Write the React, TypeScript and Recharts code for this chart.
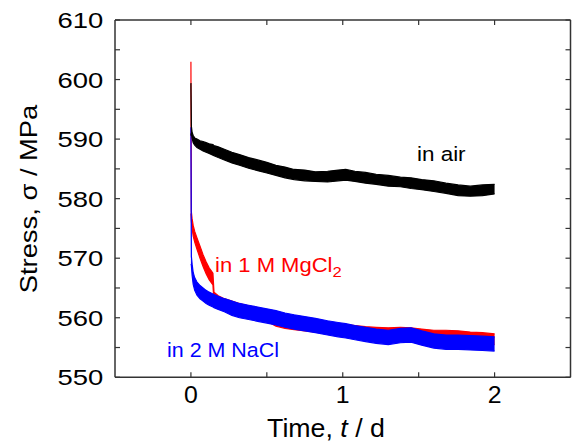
import React from 'react';
import { ComposedChart, Area, XAxis, YAxis } from 'recharts';

// time in days, shared by all three records
const time = [
  0, 0.003, 0.008, 0.015, 0.025, 0.04, 0.06, 0.08, 0.1, 0.12,
  0.145, 0.152, 0.18, 0.22, 0.27, 0.32, 0.38, 0.44, 0.5, 0.56,
  0.62, 0.68, 0.75, 0.82, 0.9, 0.97, 1.02, 1.08, 1.15, 1.22,
  1.3, 1.38, 1.45, 1.52, 1.6, 1.68, 1.76, 1.84, 1.92, 2.0,
];

// stress band (low / high edge of the noisy trace), MPa
const airHi = [
  599.4, 592.2, 591.1, 590.6, 590.2, 590.0, 589.7, 589.6, 589.4, 589.2,
  589.1, 588.9, 588.7, 588.3, 587.8, 587.4, 586.9, 586.5, 586.1, 585.6,
  585.3, 584.9, 584.8, 584.5, 584.6, 584.8, 584.9, 584.6, 584.4, 584.1,
  583.9, 583.6, 583.5, 583.2, 583.0, 582.6, 582.3, 582.1, 582.3, 582.4,
];
const airLo = [
  590.6, 591.0, 590.1, 589.4, 589.0, 588.6, 588.3, 588.0, 587.8, 587.6,
  587.3, 587.2, 586.9, 586.5, 586.0, 585.6, 585.1, 584.7, 584.3, 583.9,
  583.5, 583.2, 583.0, 582.9, 582.8, 583.0, 583.1, 582.9, 582.6, 582.4,
  582.1, 582.0, 581.7, 581.5, 581.2, 580.9, 580.5, 580.4, 580.5, 580.8,
];
const mgHi = [
  603.0, 577.8, 576.6, 575.5, 574.5, 573.4, 572.0, 570.6, 569.4, 568.4,
  567.5, 564.3, 563.7, 563.2, 562.8, 562.4, 562.0, 561.7, 561.2, 560.4,
  560.0, 559.8, 559.6, 559.4, 559.2, 559.0, 558.9, 558.7, 558.5, 558.4,
  558.3, 558.4, 558.3, 558.1, 557.9, 557.9, 557.8, 557.6, 557.5, 557.3,
];
const mgLo = [
  577.5, 576.2, 575.0, 573.7, 572.7, 571.5, 570.0, 568.6, 567.4, 566.4,
  565.5, 562.5, 561.9, 561.4, 561.0, 560.6, 560.2, 559.9, 559.4, 558.6,
  558.2, 558.0, 557.8, 557.6, 557.4, 557.2, 557.1, 556.9, 556.7, 556.6,
  556.5, 556.6, 556.5, 556.3, 556.1, 556.1, 556.0, 555.8, 555.7, 555.5,
];
const naHi = [
  592.0, 570.3, 569.0, 567.6, 566.7, 566.0, 565.4, 565.0, 564.6, 564.3,
  564.0, 563.9, 563.6, 563.2, 562.8, 562.4, 562.1, 561.8, 561.5, 561.2,
  560.8, 560.5, 560.2, 559.9, 559.5, 559.2, 559.0, 558.7, 558.4, 558.1,
  557.9, 558.2, 558.3, 557.8, 557.3, 557.1, 557.1, 557.0, 556.9, 556.8,
];
const naLo = [
  569.0, 568.8, 567.1, 565.6, 564.6, 563.8, 563.2, 562.8, 562.4, 562.1,
  561.8, 561.7, 561.4, 561.0, 560.4, 560.0, 559.7, 559.4, 559.1, 558.8,
  558.4, 558.1, 557.8, 557.5, 557.1, 556.8, 556.6, 556.3, 556.0, 555.7,
  555.5, 555.8, 555.9, 555.4, 554.9, 554.7, 554.7, 554.6, 554.5, 554.4,
];

const xTicks = [0, 0.5, 1, 1.5, 2];
const yTicks = [550, 555, 560, 565, 570, 575, 580, 585, 590, 595, 600, 605, 610];

const data = time.map((t, i) => ({
  t,
  air: [airLo[i], airHi[i]],
  mg: [mgLo[i], mgHi[i]],
  na: [naLo[i], naHi[i]],
}));

const FONT = '"Liberation Sans", Arial, Helvetica, sans-serif';
const FRAME = '#333';

const BottomTick = (props: any) => {
  const { x, y, payload } = props;
  const v = payload.value;
  return (
    <g>
      <line x1={x} y1={y} x2={x} y2={y - 5} stroke={FRAME} strokeWidth={1.2} />
      {Number.isInteger(v) && (
        <text transform={`translate(${x},${y + 26}) scale(1.08,1)`} textAnchor="middle" fontSize={23} fontFamily={FONT} fill="#000">
          {v}
        </text>
      )}
    </g>
  );
};

const TopTick = (props: any) => {
  const { x, y } = props;
  return <line x1={x} y1={y} x2={x} y2={y + 5} stroke={FRAME} strokeWidth={1.2} />;
};

const LeftTick = (props: any) => {
  const { x, y, payload } = props;
  const v = payload.value;
  return (
    <g>
      <line x1={x} y1={y} x2={x + 5} y2={y} stroke={FRAME} strokeWidth={1.2} />
      {v % 10 === 0 && (
        <text transform={`translate(${x - 11.7},${y + 8}) scale(1.22,1)`} textAnchor="end" fontSize={22.5} fontFamily={FONT} fill="#000">
          {v}
        </text>
      )}
    </g>
  );
};

const RightTick = (props: any) => {
  const { x, y } = props;
  return <line x1={x} y1={y} x2={x - 5} y2={y} stroke={FRAME} strokeWidth={1.2} />;
};

export default function App() {
  return (
    <div style={{ position: 'absolute', left: 0, top: 0, width: 573, height: 441, background: '#fff' }}>
      <ComposedChart
        width={573}
        height={441}
        data={data}
        margin={{ top: 19, right: 1.5, bottom: 62.7, left: 114 }}
      >
        <XAxis
          xAxisId="b"
          dataKey="t"
          type="number"
          domain={[-0.5, 2.5]}
          ticks={xTicks}
          interval={0}
          height={1}
          tickSize={0}
          tickMargin={0}
          tickLine={false}
          axisLine={{ stroke: FRAME, strokeWidth: 1.5 }}
          tick={<BottomTick />}
          allowDataOverflow
        />
        <XAxis
          xAxisId="t"
          orientation="top"
          dataKey="t"
          type="number"
          domain={[-0.5, 2.5]}
          ticks={xTicks}
          interval={0}
          height={1}
          tickSize={0}
          tickMargin={0}
          tickLine={false}
          axisLine={{ stroke: FRAME, strokeWidth: 1.5 }}
          tick={<TopTick />}
          allowDataOverflow
        />
        <YAxis
          yAxisId="l"
          type="number"
          domain={[550, 610]}
          ticks={yTicks}
          interval={0}
          width={1}
          tickSize={0}
          tickMargin={0}
          tickLine={false}
          axisLine={{ stroke: FRAME, strokeWidth: 1.5 }}
          tick={<LeftTick />}
          allowDataOverflow
        />
        <YAxis
          yAxisId="r"
          orientation="right"
          type="number"
          domain={[550, 610]}
          ticks={yTicks}
          interval={0}
          width={1}
          tickSize={0}
          tickMargin={0}
          tickLine={false}
          axisLine={{ stroke: FRAME, strokeWidth: 1.5 }}
          tick={<RightTick />}
          allowDataOverflow
        />
        <Area xAxisId="b" yAxisId="l" type="linear" dataKey="mg" stroke="#ff0000" strokeWidth={1.2} fill="#ff0000" fillOpacity={1} dot={false} activeDot={false} isAnimationActive={false} />
        <Area xAxisId="b" yAxisId="l" type="linear" dataKey="na" stroke="#0000ff" strokeWidth={1.2} fill="#0000ff" fillOpacity={1} dot={false} activeDot={false} isAnimationActive={false} />
        <Area xAxisId="b" yAxisId="l" type="linear" dataKey="air" stroke="#000000" strokeWidth={1.2} fill="#000000" fillOpacity={1} dot={false} activeDot={false} isAnimationActive={false} />
      </ComposedChart>
      <svg width={573} height={441} style={{ position: 'absolute', left: 0, top: 0, pointerEvents: 'none' }} fontFamily={FONT}>
        <text transform="translate(326,437) scale(1.07,1)" textAnchor="middle" fontSize={25} fill="#000">
          Time, <tspan fontStyle="italic">t</tspan> / d
        </text>
        <text transform="translate(37,199) rotate(-90) scale(1.19,1)" textAnchor="middle" fontSize={23} fill="#000">
          Stress, σ / MPa
        </text>
        <text transform="translate(417,160.5) scale(1.15,1)" fontSize={19.5} fill="#000">
          in air
        </text>
        <text transform="translate(215,272) scale(1.13,1)" fontSize={19.5} fill="#ff0000">
          in 1 M MgCl<tspan fontSize={14.7} dy={5}>2</tspan>
        </text>
        <text transform="translate(167,356.7) scale(1.1,1)" fontSize={19.5} fill="#0000ff">
          in 2 M NaCl
        </text>
      </svg>
    </div>
  );
}
